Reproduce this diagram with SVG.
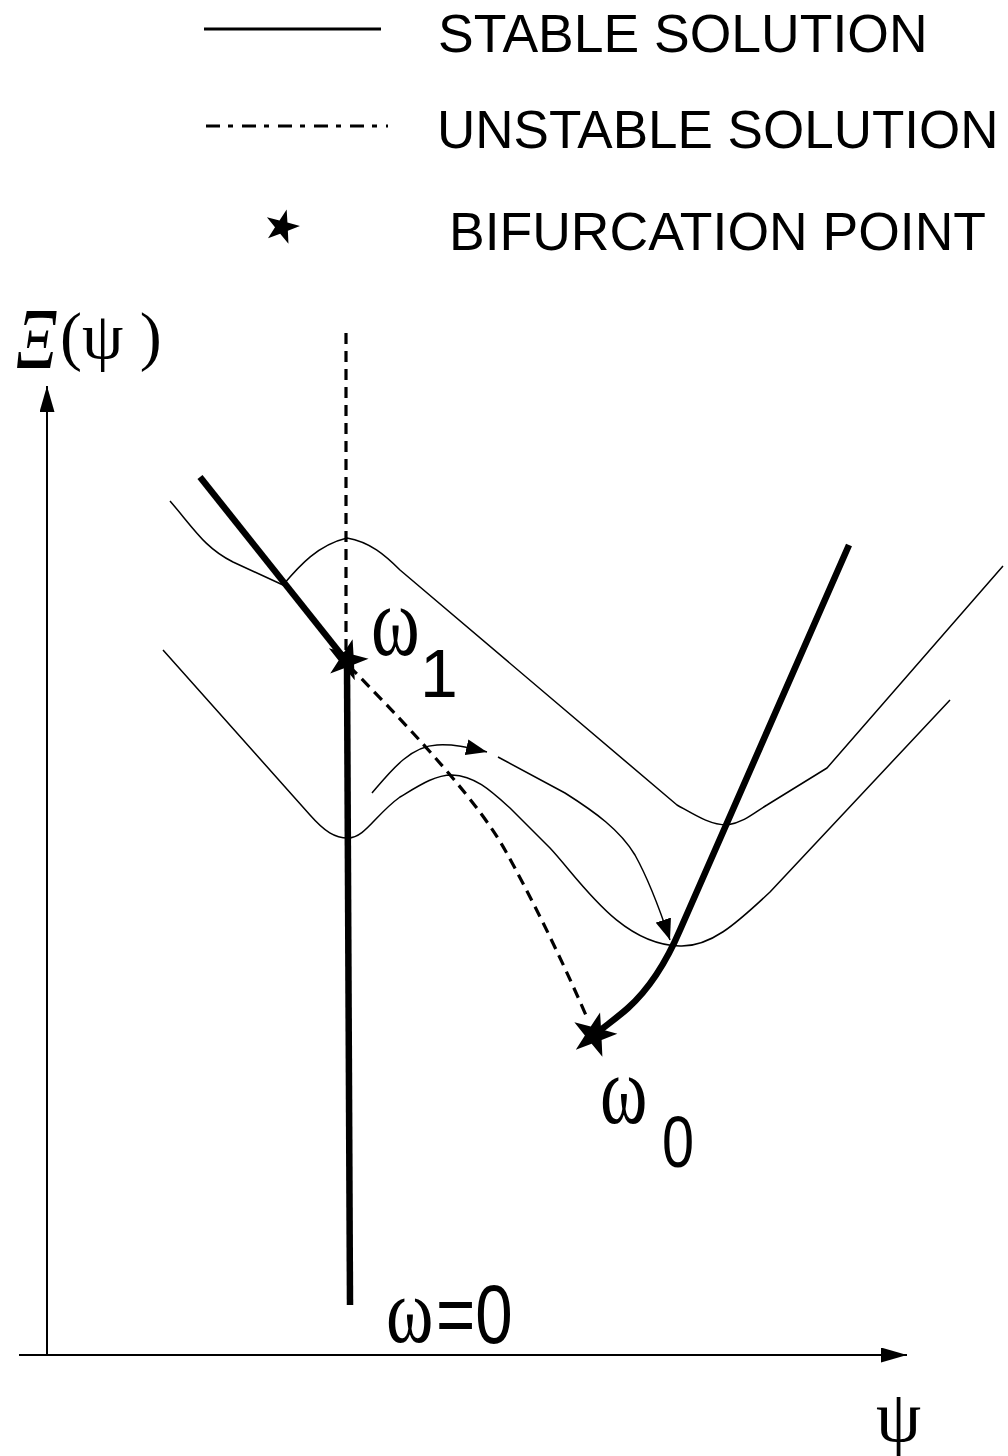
<svg xmlns="http://www.w3.org/2000/svg" width="1008" height="1456" viewBox="0 0 1008 1456">
  <style>
    .thin { fill: none; stroke: #000; stroke-width: 1.5; stroke-linejoin: round; }
    .stable { fill: none; stroke: #000; stroke-width: 6.5; stroke-linecap: butt; stroke-linejoin: round; }
    .unstable { fill: none; stroke: #000; stroke-width: 3.2; stroke-dasharray: 11 7; }
    .axis { fill: none; stroke: #000; stroke-width: 2; }
    .sans { font-family: "Liberation Sans", Arial, Helvetica, sans-serif; fill: #000; }
    .serif { font-family: "Liberation Serif", "Times New Roman", serif; fill: #000; }
  </style>
  <defs>
    <path id="star" d="M17.97,-0.94 L5.87,3.81 L6.45,16.8 L-1.81,6.76 L-13.99,11.33 L-6.99,0.37 L-15.1,-9.8 L-2.51,-6.54 L4.66,-17.39 L5.44,-4.41 Z" fill="#000"/>
    <marker id="arrow" markerUnits="userSpaceOnUse" markerWidth="22" markerHeight="16" refX="21" refY="8" orient="auto">
      <path d="M0,0 L21,8 L0,16 Z" fill="#000"/>
    </marker>
    <marker id="axisArrow" markerUnits="userSpaceOnUse" markerWidth="27" markerHeight="15" refX="26" refY="7.5" orient="auto">
      <path d="M0,0 L26,7.5 L0,15 Z" fill="#000"/>
    </marker>
  </defs>
  <rect x="0" y="0" width="1008" height="1456" fill="#fff"/>

  <!-- Legend -->
  <g id="legend">
    <g id="legend-stable">
      <line x1="204" y1="29" x2="381" y2="29" stroke="#000" stroke-width="3"/>
      <text class="sans" x="438" y="52" font-size="53.5">STABLE SOLUTION</text>
    </g>
    <g id="legend-unstable">
      <line x1="206" y1="126" x2="388" y2="126" stroke="#000" stroke-width="3" stroke-dasharray="14 8 5 9"/>
      <text class="sans" x="437" y="148" font-size="53">UNSTABLE SOLUTION</text>
    </g>
    <g id="legend-bifurcation">
      <use href="#star" transform="translate(282,227)"/>
      <text class="sans" x="449" y="250" font-size="53.5">BIFURCATION POINT</text>
    </g>
  </g>

  <!-- Axes -->
  <g id="axes">
    <line class="axis" x1="47" y1="1355" x2="47" y2="386" stroke-width="1.6" marker-end="url(#axisArrow)"/>
    <line class="axis" x1="19" y1="1355" x2="907" y2="1355" marker-end="url(#axisArrow)"/>
    <g id="y-label">
      <text class="serif" font-style="italic" font-size="64" transform="translate(16,368) scale(1,1.35)">Ξ</text>
      <text class="serif" font-size="66" x="60" y="358">(ψ )</text>
    </g>
    <text id="x-label" class="serif" font-size="72" x="876" y="1441">ψ</text>
  </g>

  <!-- Connectors: energy curves and solution branches -->
  <g id="connectors">
    <path id="curve-upper" class="thin" d="M170,501 C195,530 205,548 233,562 L283,585 C300,565 318,545 347,538 C370,542 385,555 400,570 L677,805 C695,815 710,825 727,825 C745,822 755,812 767,805 L827,768 L1003,566"/>
    <path id="curve-lower" class="thin" d="M163,650 L310,815 C325,832 335,838 348,838 C365,838 375,815 400,797 C420,785 435,775 452,775 C475,776 490,790 510,808 L550,848 C580,880 620,945 680,946 C710,947 735,925 770,892 L950,700"/>
    <path id="trajectory-1" class="thin" d="M372,793 C390,772 410,746 437,745 C455,744 470,748 487,752" marker-end="url(#arrow)"/>
    <path id="trajectory-2" class="thin" d="M498,757 L565,793 C595,812 620,830 635,855 C650,882 660,910 670,940" marker-end="url(#arrow)"/>

    <path id="stable-left" class="stable" d="M200,477 L344,658"/>
    <path id="stable-vertical" class="stable" d="M347,664 L350,1305"/>
    <path id="stable-right" class="stable" d="M849,545 L680,930 C665,965 648,990 628,1008 C618,1017 608,1024 598,1032"/>

    <path id="unstable-vertical" class="unstable" d="M346,333 L346,652"/>
    <path id="unstable-curve" class="unstable" d="M349,666 C420,738 480,805 505,850 C530,895 560,955 588,1020"/>
  </g>

  <!-- Bifurcation points -->
  <g id="bifurcation-w1">
    <use href="#star" transform="translate(347,660) scale(1.2)"/>
    <text class="serif" font-size="74" transform="translate(371,655) scale(1,1.35)">ω</text>
    <text class="sans" font-size="68" x="420" y="697">1</text>
  </g>
  <g id="bifurcation-w0">
    <use href="#star" transform="translate(594,1035) scale(1.3)"/>
    <text class="serif" font-size="72" transform="translate(600,1123) scale(1,1.35)">ω</text>
    <text class="sans" font-size="72" transform="translate(662,1167) scale(0.8,1)">0</text>
  </g>
  <g id="label-w-zero">
    <text class="serif" font-size="72" transform="translate(386,1342) scale(1,1.3)">ω</text>
    <text class="sans" font-size="84" transform="translate(436,1343) scale(0.8,1)">=0</text>
  </g>
</svg>
